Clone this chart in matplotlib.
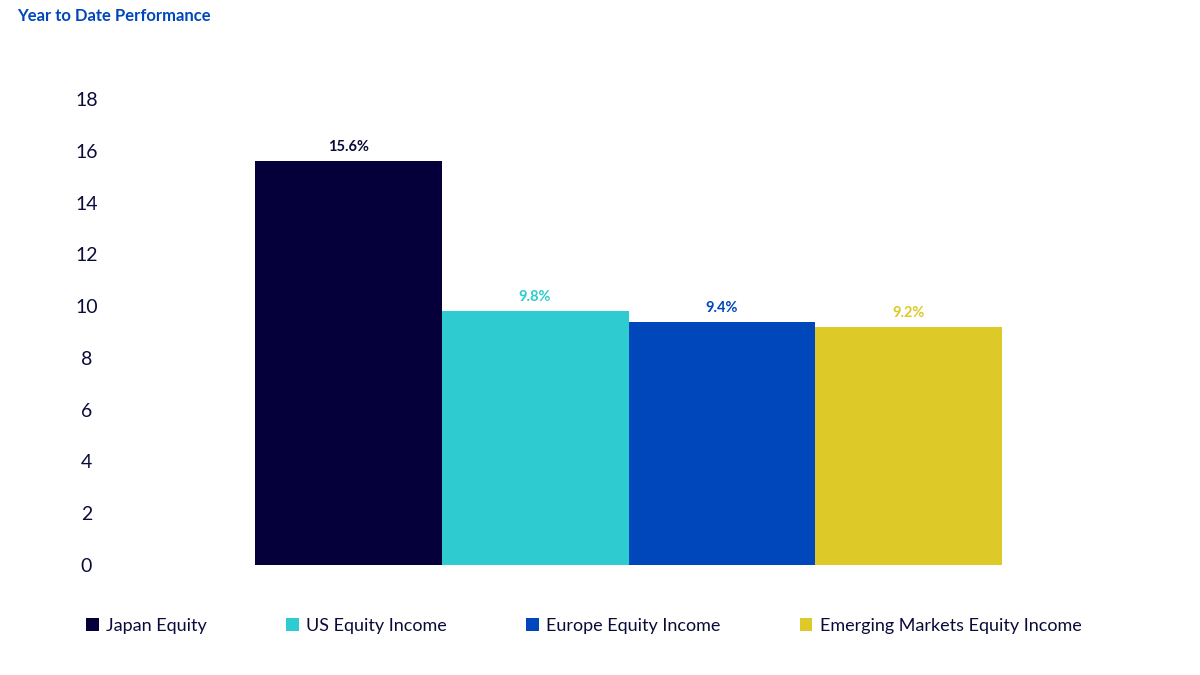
import matplotlib

matplotlib.use("Agg")
import matplotlib.pyplot as plt  # noqa: E402
from matplotlib.patches import Patch  # noqa: E402

plt.rcParams["font.family"] = ["Lato", "DejaVu Sans"]

funds = ["Japan Equity", "US Equity Income", "Europe Equity Income",
         "Emerging Markets Equity Income"]
ytd_returns = [15.6, 9.8, 9.4, 9.2]
bar_colors = ["#06003a", "#2ecbd1", "#0047bb", "#ddc927"]
y_ticks = [0, 2, 4, 6, 8, 10, 12, 14, 16, 18]

TEXT_DARK = "#0b0b3a"

fig = plt.figure(figsize=(12, 6.75), dpi=100)
ax = fig.add_axes([110 / 1200, 1 - 565 / 675, (1150 - 110) / 1200, (565 - 99) / 675])

positions = list(range(len(funds)))
bars = ax.bar(positions, ytd_returns, width=1.0, color=bar_colors)

for bar, value, color in zip(bars, ytd_returns, bar_colors):
    ax.annotate(f"{value:.1f}%", (bar.get_x() + bar.get_width() / 2, value),
                xytext=(0, 5), textcoords="offset points", ha="center", va="bottom",
                fontsize=10.5, fontweight="bold", color=TEXT_DARK if color == "#06003a" else color)

ax.set_xlim(-1.276, 4.292)
ax.set_ylim(0, 18)
ax.set_yticks(y_ticks)
ax.set_yticklabels([str(t) for t in y_ticks], fontsize=14, color=TEXT_DARK, ha="center")
ax.tick_params(axis="y", length=0, pad=17)
ax.set_xticks([])
for spine in ax.spines.values():
    spine.set_visible(False)

fig.text(17 / 1200, 1 - 16 / 675, "Year to Date Performance", ha="left", va="center",
         fontsize=12, fontweight="bold", color="#0047bb")

handles = [Patch(facecolor=c, edgecolor="none") for c in bar_colors]
fig.legend(handles, funds, loc="center left", bbox_to_anchor=(86 / 1200, 1 - 626 / 675),
           ncol=4, frameon=False, fontsize=13, handlelength=0.7, handleheight=0.7,
           handletextpad=0.4, columnspacing=4.4, labelcolor=TEXT_DARK, borderaxespad=0,
           borderpad=0)

fig.savefig("out.png", dpi=100)
plt.close(fig)
